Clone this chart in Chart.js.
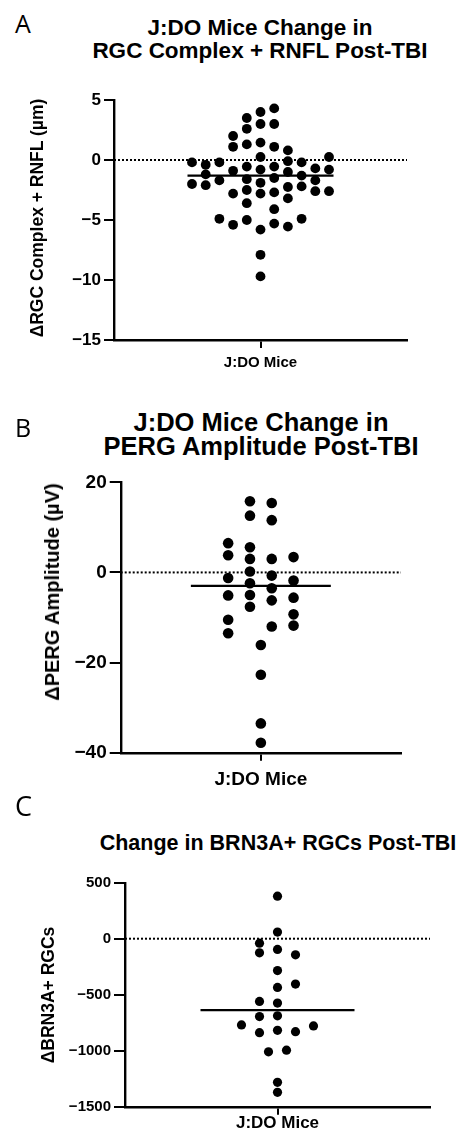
<!DOCTYPE html>
<html><head><meta charset="utf-8">
<script src="https://cdn.jsdelivr.net/npm/chart.js@4"></script>
<style>
body{margin:0;background:#fff;}
#wrap{position:relative;width:459px;height:1136px;overflow:hidden;font-family:Arial,"Liberation Sans",Helvetica,sans-serif;color:#000;background:#fff;}
canvas{position:absolute;left:0;}
.letter{position:absolute;font-family:"Open Sans",sans-serif;font-weight:400;line-height:1;}
.title{position:absolute;text-align:center;font-weight:bold;white-space:nowrap;}
.ytitle{position:absolute;font-weight:bold;white-space:nowrap;transform:translate(-50%,-50%) rotate(-90deg);line-height:1;}
</style></head><body>
<div id="wrap">
<canvas id="cA" width="459" height="300" style="top:80px"></canvas>
<canvas id="cB" width="459" height="340" style="top:460px"></canvas>
<canvas id="cC" width="459" height="276" style="top:860px"></canvas>

<div class="letter" style="left:15px;top:11px;font-size:25px">A</div>
<div class="title" style="left:60px;width:400px;top:16px;font-size:22.5px;line-height:23.3px">J:DO Mice Change in<br>RGC Complex + RNFL Post-TBI</div>
<div class="ytitle" style="left:38px;top:218px;font-size:17.5px">ΔRGC Complex + RNFL (µm)</div>

<div class="letter" style="left:15px;top:415px;font-size:25px">B</div>
<div class="title" style="left:61px;width:400px;top:410px;font-size:25.5px;line-height:24px">J:DO Mice Change in<br>PERG Amplitude Post-TBI</div>
<div class="ytitle" style="left:52px;top:592px;font-size:20px">ΔPERG Amplitude (µV)</div>

<div class="letter" style="left:15px;top:792px;font-size:27px">C</div>
<div class="title" style="left:78px;width:400px;top:832px;font-size:21.5px;line-height:23px">Change in BRN3A+ RGCs Post-TBI</div>
<div class="ytitle" style="left:49px;top:995px;font-size:17.5px">ΔBRN3A+ RGCs</div>
</div>
<script>
const category = 'J:DO Mice';

// Panel A: ΔRGC Complex + RNFL (µm), one value per mouse, with its swarm column
const rgcValues = [
  -0.2, -2.0,
  -0.4, -1.2, -2.1,
  -0.2, -1.7, -4.9,
  2.0, 1.1, -0.9, -2.8, -5.4,
  3.5, 2.6, 1.3, -0.55, -1.6, -2.5, -3.6, -5.0,
  4.0, 3.0, 1.45, 0.25, -0.8, -1.9, -2.8, -5.8, -7.9, -9.7,
  4.3, 3.0, 1.1, -0.55, -1.5, -2.7, -4.1, -5.3,
  0.8, -0.1, -1.0, -2.25, -3.2, -5.55,
  -0.2, -1.3, -2.2, -4.9,
  -0.7, -1.7, -2.6,
  0.25, -0.8, -2.6
];
const rgcColumns = [
  -5, -5,
  -4, -4, -4,
  -3, -3, -3,
  -2, -2, -2, -2, -2,
  -1, -1, -1, -1, -1, -1, -1, -1,
  0, 0, 0, 0, 0, 0, 0, 0, 0, 0,
  1, 1, 1, 1, 1, 1, 1, 1,
  2, 2, 2, 2, 2, 2,
  3, 3, 3, 3,
  4, 4, 4,
  5, 5, 5
];
const rgcMean = -1.3;
const rgcTicks = [-15, -10, -5, 0, 5];

// Panel B: ΔPERG Amplitude (µV)
const pergValues = [
  6.5, 3.8, -1.25, -5.1, -10.5, -13.5,
  15.8, 12.6, 5.6, 3.0, 0.2, -2.4, -5.0, -7.6,
  15.4, 11.6, 3.0, -0.7, -3.5, -6.2, -12.0,
  3.4, -1.8, -5.6, -9.3, -11.8,
  -16.1, -22.7, -33.5, -37.8
];
const pergColumns = [
  -1.5, -1.5, -1.5, -1.5, -1.5, -1.5,
  -0.5, -0.5, -0.5, -0.5, -0.5, -0.5, -0.5, -0.5,
  0.5, 0.5, 0.5, 0.5, 0.5, 0.5, 0.5,
  1.5, 1.5, 1.5, 1.5, 1.5,
  0, 0, 0, 0
];
const pergMean = -3.0;
const pergTicks = [-40, -20, 0, 20];

// Panel C: ΔBRN3A+ RGCs
const brnValues = [
  380, 59, -96, -285, -435, -575, -689, -818, -1282, -1372,
  -40, -126, -560, -695, -839,
  -144, -405, -830,
  -770, -779, -1010, -995
];
const brnColumns = [
  0, 0, 0, 0, 0, 0, 0, 0, 0, 0,
  -1, -1, -1, -1, -1,
  1, 1, 1,
  -2, 2, -0.5, 0.5
];
const brnMean = -637;
const brnTicks = [-1500, -1000, -500, 0, 500];

const FONT = 'Arial, "Liberation Sans", Helvetica, sans-serif';
const fmt = v => v < 0 ? '\u2212' + Math.abs(v) : String(v);

function makePanel(id, o) {
  const halfCols = o.halfWidthPx / o.colPx;
  const meanHalf = o.meanHalfPx / o.colPx;
  return new Chart(document.getElementById(id), {
    type: 'scatter',
    data: { datasets: [
      { data: [{x: -halfCols, y: 0}, {x: halfCols, y: 0}], showLine: true, borderColor: '#000',
        borderWidth: 2, borderDash: [2, 2], pointRadius: 0, order: 3 },
      { data: [{x: -meanHalf, y: o.mean}, {x: meanHalf, y: o.mean}], showLine: true, borderColor: '#000',
        borderWidth: 2.2, pointRadius: 0, order: 2 },
      { data: o.values.map((v, i) => ({x: o.cols[i], y: v})), pointRadius: o.r, pointBorderWidth: 0,
        backgroundColor: '#000', borderColor: '#000', order: 1 }
    ]},
    options: {
      responsive: false, animation: false, devicePixelRatio: 1,
      layout: { padding: { top: o.padTop, right: o.padRight, left: 0, bottom: 0 } },
      plugins: { legend: { display: false }, tooltip: { enabled: false } },
      scales: {
        x: {
          type: 'linear', min: -halfCols, max: halfCols,
          afterBuildTicks: s => { s.ticks = [{value: 0}]; },
          afterFit: s => { s.height = o.xHeight; },
          ticks: { callback: () => category, color: '#000', padding: o.xPad, maxRotation: 0, autoSkip: false,
                   font: { family: FONT, size: o.xFont, weight: 'bold' } },
          grid: { drawOnChartArea: false, drawTicks: true, tickLength: o.xTick, color: '#000', lineWidth: 2 },
          border: { display: true, color: '#000', width: 2.4 }
        },
        y: {
          min: o.ticks[0], max: o.ticks[o.ticks.length - 1],
          afterBuildTicks: s => { s.ticks = o.ticks.map(v => ({value: v})); },
          afterFit: s => { s.width = o.yWidth; },
          ticks: { callback: v => fmt(v), color: '#000', padding: 3, autoSkip: false,
                   font: { family: FONT, size: o.yFont, weight: 'bold' } },
          grid: { drawOnChartArea: false, drawTicks: true, tickLength: o.yTick, color: '#000', lineWidth: 2 },
          border: { display: true, color: '#000', width: 2.4 }
        }
      }
    }
  });
}

makePanel('cA', { values: rgcValues, cols: rgcColumns, mean: rgcMean, ticks: rgcTicks,
  halfWidthPx: 146.5, colPx: 13.7, meanHalfPx: 73, r: 4.9,
  padTop: 20, padRight: 52, yWidth: 114, xHeight: 40, xPad: 6, xTick: 8, yTick: 10, xFont: 15, yFont: 17 });

makePanel('cB', { values: pergValues, cols: pergColumns, mean: pergMean, ticks: pergTicks,
  halfWidthPx: 140.2, colPx: 21.8, meanHalfPx: 70, r: 5.3,
  padTop: 22.3, padRight: 58, yWidth: 120.7, xHeight: 47.3, xPad: 8, xTick: 8, yTick: 11, xFont: 19, yFont: 19 });

makePanel('cC', { values: brnValues, cols: brnColumns, mean: brnMean, ticks: brnTicks,
  halfWidthPx: 152.5, colPx: 18, meanHalfPx: 77, r: 4.6,
  padTop: 22.7, padRight: 29, yWidth: 125, xHeight: 29.3, xPad: -2, xTick: 8, yTick: 11, xFont: 17, yFont: 15 });
</script>
</body></html>
